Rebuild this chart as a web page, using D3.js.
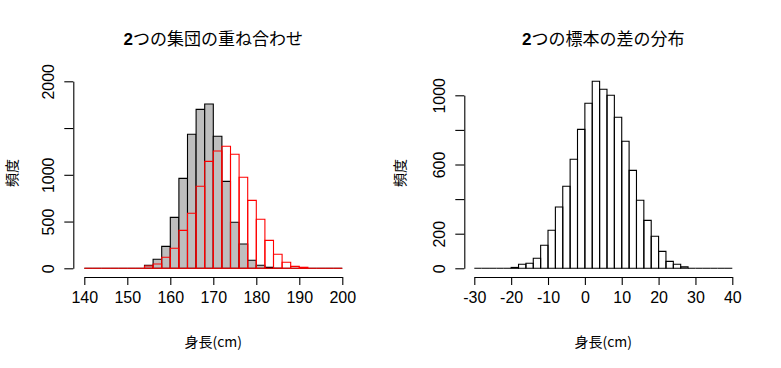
<!DOCTYPE html>
<html>
<head>
<meta charset="utf-8">
<title>histograms</title>
<script src="https://cdn.jsdelivr.net/npm/d3@7"></script>
<style>
  body { margin: 0; background: #fff; }
  text { font-family: "Liberation Sans", Arial, sans-serif; fill: #000; }
  .jp { font-family: "Noto Sans CJK JP", sans-serif; }
</style>
</head>
<body>
<script>
// ---- data (bin width 2) ----
var leftBins = d3.range(140, 200, 2);      // bin starts 140..198
var groupA = [0,0,0,0,0,0,0, 32,96,235,545,962,1433,1700,1757,1412,930,492,260,86,32,11,2, 0,0,0,0,0,0,0];
var groupB = [0,0,0,0,0,0,0, 25,46,118,214,406,588,877,1144,1255,1305,1219,973,727,524,299,150,64,21,11, 0,0,0,0];
var leftXTicks = [140,150,160,170,180,190,200];
var leftYTicks = [0,500,1000,1500,2000];
var leftYLabels = ["0","500","1000","","2000"];

var rightBins = d3.range(-30, 40, 2);      // bin starts -30..38
var diffCounts = [0,0,0,0,0, 5,23,29,58,133,220,354,474,630,803,954,1081,1035,1000,873,734,566,393,277,185,98,40,23,8, 0,0,0,0,0,0];
var rightXTicks = [-30,-20,-10,0,10,20,30,40];
var rightYTicks = [0,200,400,600,800,1000];
var rightYLabels = ["0","200","","600","","1000"];

var width = 781, height = 368;
var svg = d3.select("body").append("svg")
    .attr("width", width)
    .attr("height", height);

// 画面の配置
var baseY = 268.3, axisY = 277;

function barPath(x, y, lo, hi, n){
    return "M" + x(lo) + "," + y(0) + "V" + y(n) + "H" + x(hi) + "V" + y(0) + "Z";
}

function drawPanel(opt){
    var x = d3.scaleLinear().domain(opt.xDomain).range(opt.xRange);
    var y = d3.scaleLinear().domain(opt.yDomain).range([baseY, opt.yTop]);

    opt.series.forEach(function(s){
        svg.append("g").selectAll("path")
            .data(s.counts)
            .enter()
            .append("path")
            .attr("d", function(d, i){ return barPath(x, y, opt.bins[i], opt.bins[i] + 2, d); })
            .attr("fill", s.fill)
            .attr("stroke", s.stroke)
            .attr("stroke-width", 1.1);
    });

    // x axis (hyphen minus like R)
    var gx = svg.append("g")
        .attr("transform", "translate(0," + axisY + ")")
        .call(d3.axisBottom(x).tickValues(opt.xTicks).tickSize(8).tickSizeOuter(0)
              .tickFormat(function(d){ return String(d); }));
    gx.selectAll("line, path").attr("stroke", "#000").attr("stroke-width", 1.1);
    gx.selectAll("text").attr("y", 20).attr("dy", "0.35em").style("font-size", "16px");

    // y axis
    var gy = svg.append("g")
        .attr("transform", "translate(" + opt.yAxisX + ",0)")
        .call(d3.axisLeft(y).tickValues(opt.yTicks).tickSize(9).tickSizeOuter(0)
              .tickFormat(function(d, i){ return opt.yLabels[i]; }));
    gy.selectAll("line, path").attr("stroke", "#000").attr("stroke-width", 1.1);
    gy.selectAll("text")
        .attr("transform", "rotate(-90)")
        .attr("x", 0).attr("y", -19).attr("dy", 0)
        .attr("text-anchor", "middle")
        .style("font-size", "16px");

    // title
    var cx = (opt.xRange[0] + opt.xRange[1]) / 2;
    var t = svg.append("text")
        .attr("x", cx).attr("y", 45)
        .attr("text-anchor", "middle")
        .style("font-size", "17px");
    t.append("tspan").attr("font-weight", "bold").text("2");
    t.append("tspan").attr("class", "jp").text(opt.title);

    svg.append("text")
        .attr("class", "jp")
        .attr("x", cx).attr("y", 347)
        .attr("text-anchor", "middle")
        .style("font-size", "14px")
        .text("身長(cm)");

    svg.append("text")
        .attr("class", "jp")
        .attr("transform", "translate(" + opt.ylabX + ",173) rotate(-90)")
        .attr("text-anchor", "middle")
        .style("font-size", "14px")
        .text("頻度");
}

drawPanel({
    xDomain: [140, 200], xRange: [84.3, 342.3],
    yDomain: [0, 2000], yTop: 81.3,
    bins: leftBins,
    series: [
        {counts: groupA, fill: "#bebebe", stroke: "#000"},
        {counts: groupB, fill: "none", stroke: "#ff0000"}
    ],
    xTicks: leftXTicks, yTicks: leftYTicks, yLabels: leftYLabels,
    yAxisX: 73.3, ylabX: 17,
    title: "つの集団の重ね合わせ"
});

drawPanel({
    xDomain: [-30, 40], xRange: [474.3, 732.3],
    yDomain: [0, 1000], yTop: 95.3,
    bins: rightBins,
    series: [
        {counts: diffCounts, fill: "none", stroke: "#000"}
    ],
    xTicks: rightXTicks, yTicks: rightYTicks, yLabels: rightYLabels,
    yAxisX: 464.3, ylabX: 405,
    title: "つの標本の差の分布"
});
</script>
</body>
</html>
